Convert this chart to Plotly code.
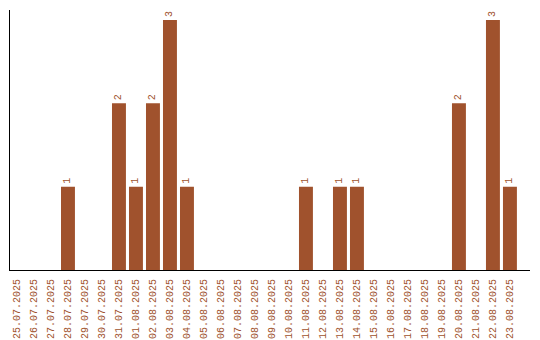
import plotly.graph_objects as go

dates = ["25.07.2025", "26.07.2025", "27.07.2025", "28.07.2025", "29.07.2025",
         "30.07.2025", "31.07.2025", "01.08.2025", "02.08.2025", "03.08.2025",
         "04.08.2025", "05.08.2025", "06.08.2025", "07.08.2025", "08.08.2025",
         "09.08.2025", "10.08.2025", "11.08.2025", "12.08.2025", "13.08.2025",
         "14.08.2025", "15.08.2025", "16.08.2025", "17.08.2025", "18.08.2025",
         "19.08.2025", "20.08.2025", "21.08.2025", "22.08.2025", "23.08.2025"]
counts = [0, 0, 0, 1, 0, 0, 2, 1, 2, 3, 1, 0, 0, 0, 0, 0, 0, 1, 0, 1,
          1, 0, 0, 0, 0, 0, 2, 0, 3, 1]

color = "#A0522D"
labels = [str(v) if v > 0 else "" for v in counts]

fig = go.Figure(go.Bar(
    x=dates, y=counts, marker_color=color, marker_line_width=0,
    text=labels, textposition="outside", textangle=-90,
    textfont=dict(family="Liberation Mono", size=10, color=color),
    cliponaxis=False,
))
fig.update_layout(
    width=540, height=340,
    margin=dict(l=10, r=10, t=10, b=70),
    plot_bgcolor="white", paper_bgcolor="white",
    bargap=0.18, showlegend=False,
)
fig.update_xaxes(
    type="category", range=[-0.41, 30.18], automargin=False,
    showline=True, linecolor="black", linewidth=1,
    showgrid=False, ticks="", tickangle=-90, ticklabelstandoff=4,
    tickfont=dict(family="Liberation Mono", size=10, color=color),
)
fig.update_yaxes(
    range=[0, 3.12], showline=True, linecolor="black", linewidth=1,
    showgrid=False, zeroline=False, showticklabels=False, ticks="",
    automargin=False,
)
fig.write_html("out.html")
